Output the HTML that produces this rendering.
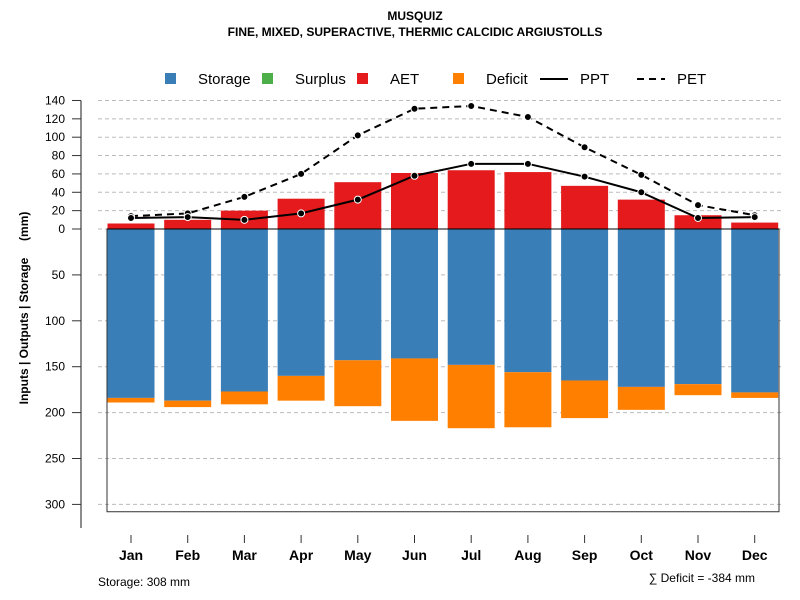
<!DOCTYPE html>
<html><head><meta charset="utf-8"><style>
body{margin:0;background:#fff}
svg{display:block;font-family:"Liberation Sans",Arial,sans-serif}
</style></head><body>
<svg id="c" width="800" height="600"></svg>
<script>
const months=["Jan","Feb","Mar","Apr","May","Jun","Jul","Aug","Sep","Oct","Nov","Dec"];
const storage=[184,187,177,160,143,141,148,156,165,172,169,178];
const deficit=[5,7,14,27,50,68,69,60,41,25,12,6];
const aet=[6,10,20,33,51,61,64,62,47,32,15,7];
const ppt=[12,13,10,17,32,58,71,71,57,40,12,13];
const pet=[14,17,35,60,102,131,134,122,89,59,26,15];
const upTicks=[0,20,40,60,80,100,120,140];
const downTicks=[50,100,150,200,250,300];
const storageCapacity=308;
const NS="http://www.w3.org/2000/svg";
const svg=document.getElementById('c');
const Y0=229,K=0.918;
const y=v=>Y0-v*K;
const x=i=>131+i*56.7;
const BW=47;
function el(t,a,txt){const e=document.createElementNS(NS,t);for(const k in a)e.setAttribute(k,a[k]);if(txt!==undefined)e.textContent=txt;svg.appendChild(e);return e;}
let t=el('text',{x:415,y:20,'text-anchor':'middle','font-size':12,'font-weight':'bold'},'MUSQUIZ');

t=el('text',{x:415,y:36,'text-anchor':'middle','font-size':12,'font-weight':'bold'},'FINE, MIXED, SUPERACTIVE, THERMIC CALCIDIC ARGIUSTOLLS');

const leg=[["Storage","#3a7eb8",165,"rect"],["Surplus","#4daf4a",262,"rect"],["AET","#e41a1c",357,"rect"],["Deficit","#ff7f00",453,"rect"],["PPT","#000",540,"line"],["PET","#000",637,"dash"]];
leg.forEach(l=>{
 let g;
 if(l[3]=="rect"){g=el('rect',{x:l[2],y:73,width:11,height:11,fill:l[1]});}
 else{g=el('line',{x1:l[2],x2:l[2]+28,y1:79,y2:79,stroke:'#000','stroke-width':2,'stroke-dasharray':l[3]=="dash"?"7,5":"none"});}
 
 let tx=el('text',{x:l[2]+(l[3]=="rect"?33:40),y:84,'font-size':15},l[0]);
 
});
upTicks.concat(downTicks.map(v=>-v)).forEach(v=>{
 const g=el('line',{x1:98,x2:781,y1:y(v),y2:y(v),stroke:'#bbb','stroke-dasharray':'4,3'});
 
});
let a=el('line',{x1:81,x2:81,y1:y(140),y2:528,stroke:'#666','stroke-width':1.5});

upTicks.forEach(v=>{
 let tk=el('line',{x1:72,x2:81,y1:y(v),y2:y(v),stroke:'#333'});
 
 let lb=el('text',{x:65,y:y(v)+4,'text-anchor':'end','font-size':12},String(v));
 
});
downTicks.forEach(v=>{
 let tk=el('line',{x1:72,x2:81,y1:y(-v),y2:y(-v),stroke:'#333'});
 
 let lb=el('text',{x:65,y:y(-v)+4,'text-anchor':'end','font-size':12},String(v));
 
});
t=el('text',{x:0,y:0,'font-size':12,'font-weight':'bold','text-anchor':'middle',transform:'translate(28,308) rotate(-90)','xml:space':'preserve',style:'white-space:pre'},'Inputs | Outputs | Storage     (mm)');

let bx=el('rect',{x:107,y:Y0,width:672,height:storageCapacity*K,fill:'none',stroke:'#333'});

months.forEach((m,i)=>{
 let r=el('rect',{x:x(i)-BW/2,y:Y0,width:BW,height:storage[i]*K,fill:'#3a7eb8'});
 
 r=el('rect',{x:x(i)-BW/2,y:Y0+storage[i]*K,width:BW,height:deficit[i]*K,fill:'#ff7f00'});
 
 r=el('rect',{x:x(i)-BW/2,y:y(aet[i]),width:BW,height:aet[i]*K,fill:'#e41a1c'});
 
 let tk=el('line',{x1:x(i),x2:x(i),y1:535,y2:543,stroke:'#333'});
 
 let lb=el('text',{x:x(i),y:560,'text-anchor':'middle','font-size':14,'font-weight':'bold'},m);
 
});
let zl=el('line',{x1:107,x2:779,y1:Y0,y2:Y0,stroke:'#000'});

function series(vals,name,dash){
 const p=el('polyline',{points:vals.map((v,i)=>x(i)+','+y(v)).join(' '),fill:'none',stroke:'#000','stroke-width':2,'stroke-dasharray':dash});
 
 vals.forEach((v,i)=>{
  const c=el('circle',{cx:x(i),cy:y(v),r:3.5,fill:'#000',stroke:'#fff','stroke-width':1});
  
 });
}
series(pet,'pet','7,5');
series(ppt,'ppt','none');
t=el('text',{x:98,y:586,'font-size':12},'Storage: '+storageCapacity+' mm');

t=el('text',{x:755,y:582,'text-anchor':'end','font-size':12},'∑ Deficit = -'+deficit.reduce((s,v)=>s+v,0)+' mm');

</script>
</body></html>
